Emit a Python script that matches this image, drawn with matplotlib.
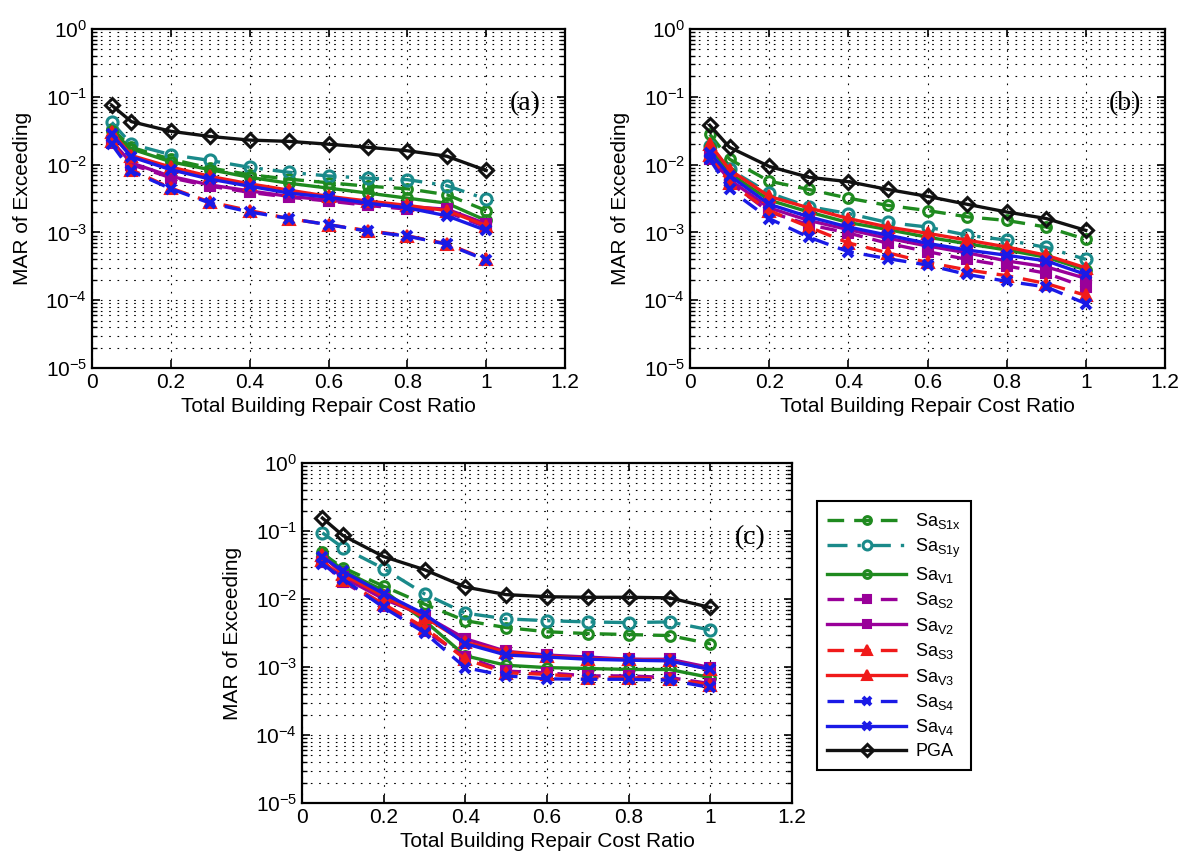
import numpy as np
import matplotlib
matplotlib.use("Agg")
import matplotlib.pyplot as plt

plt.rcParams['font.family'] = ['Liberation Sans', 'DejaVu Sans']
plt.rcParams['mathtext.fontset'] = 'custom'
plt.rcParams['mathtext.rm'] = 'Liberation Sans'
plt.rcParams['mathtext.it'] = 'Liberation Sans:italic'
plt.rcParams['mathtext.default'] = 'regular'

# repair cost ratio levels
ratio = [0.05, 0.1, 0.2, 0.3, 0.4, 0.5, 0.6, 0.7, 0.8, 0.9, 1.0]

# (a)
s1x_a = [0.034, 0.018, 0.012, 0.0089, 0.0071, 0.0061, 0.0054, 0.0048, 0.0044, 0.0036, 0.0021]
s1y_a = [0.042, 0.020, 0.014, 0.0115, 0.0091, 0.0077, 0.0068, 0.0063, 0.0060, 0.0049, 0.0031]
v1_a = [0.031, 0.017, 0.011, 0.0084, 0.0065, 0.0053, 0.0045, 0.0038, 0.0032, 0.0027, 0.0015]
s2_a = [0.021, 0.0100, 0.0064, 0.0048, 0.0039, 0.0033, 0.0029, 0.0025, 0.0022, 0.0020, 0.0012]
v2_a = [0.022, 0.0106, 0.0067, 0.0050, 0.0041, 0.0034, 0.0030, 0.0026, 0.0024, 0.0022, 0.00134]
s3_a = [0.022, 0.0084, 0.0045, 0.0028, 0.0021, 0.0016, 0.0013, 0.00106, 0.00089, 0.00068, 0.00040]
v3_a = [0.030, 0.0136, 0.0092, 0.0067, 0.0052, 0.0042, 0.0034, 0.0029, 0.0025, 0.0021, 0.00126]
s4_a = [0.020, 0.0080, 0.0044, 0.0027, 0.0020, 0.0016, 0.0013, 0.00104, 0.00088, 0.00067, 0.00039]
v4_a = [0.028, 0.013, 0.0084, 0.0061, 0.0048, 0.0038, 0.0033, 0.0027, 0.0023, 0.00176, 0.00107]
pga_a = [0.075, 0.043, 0.031, 0.026, 0.023, 0.022, 0.020, 0.018, 0.016, 0.0133, 0.0082]

# (b)
s1x_b = [0.028, 0.012, 0.0057, 0.0043, 0.0032, 0.0025, 0.0021, 0.0017, 0.0015, 0.0012, 0.00079]
s1y_b = [0.019, 0.0085, 0.0038, 0.0024, 0.0019, 0.0014, 0.0012, 0.00091, 0.00077, 0.0006, 0.0004]
v1_b = [0.018, 0.0075, 0.0030, 0.0020, 0.0014, 0.0011, 0.00085, 0.00068, 0.00055, 0.00043, 0.00028]
s2_b = [0.012, 0.0055, 0.0020, 0.0013, 0.00098, 0.00069, 0.00052, 0.00040, 0.00032, 0.00025, 0.000155]
v2_b = [0.013, 0.0060, 0.0023, 0.0015, 0.0011, 0.00082, 0.00063, 0.00050, 0.00038, 0.00031, 0.00021]
s3_b = [0.014, 0.0053, 0.0021, 0.0012, 0.0007, 0.0005, 0.00036, 0.00028, 0.00023, 0.000176, 0.000118]
v3_b = [0.020, 0.0084, 0.0034, 0.0023, 0.0016, 0.0012, 0.00097, 0.00077, 0.00061, 0.00046, 0.00030]
s4_b = [0.012, 0.0043, 0.0016, 0.00085, 0.00052, 0.00041, 0.00033, 0.00024, 0.00019, 0.000157, 0.000089]
v4_b = [0.015, 0.0069, 0.0026, 0.0017, 0.0012, 0.00091, 0.00069, 0.00055, 0.00046, 0.00038, 0.00024]
pga_b = [0.038, 0.018, 0.0094, 0.0065, 0.0056, 0.0043, 0.0034, 0.0026, 0.0020, 0.0016, 0.00107]

# (c)
s1x_c = [0.046, 0.029, 0.0154, 0.0084, 0.0048, 0.0038, 0.0033, 0.0031, 0.0030, 0.0029, 0.0022]
s1y_c = [0.094, 0.057, 0.028, 0.0119, 0.0062, 0.0051, 0.0048, 0.0046, 0.0045, 0.0046, 0.0035]
v1_c = [0.049, 0.026, 0.0133, 0.0048, 0.00146, 0.00106, 0.00098, 0.00095, 0.00092, 0.00092, 0.0007]
s2_c = [0.035, 0.018, 0.008, 0.0034, 0.0014, 0.00087, 0.00082, 0.00074, 0.00074, 0.0007, 0.00057]
v2_c = [0.035, 0.021, 0.010, 0.0057, 0.0026, 0.0017, 0.0015, 0.0014, 0.0013, 0.0013, 0.00098]
s3_c = [0.037, 0.019, 0.0084, 0.0038, 0.0013, 0.00082, 0.00078, 0.0007, 0.0007, 0.00066, 0.00055]
v3_c = [0.044, 0.023, 0.011, 0.0054, 0.0023, 0.00167, 0.00146, 0.00133, 0.0013, 0.00125, 0.00092]
s4_c = [0.033, 0.0198, 0.0075, 0.0032, 0.00098, 0.00074, 0.00067, 0.00066, 0.00066, 0.00064, 0.0005]
v4_c = [0.042, 0.0254, 0.012, 0.006, 0.0022, 0.0015, 0.0014, 0.0013, 0.00126, 0.00123, 0.00092]
pga_c = [0.155, 0.086, 0.042, 0.027, 0.015, 0.0116, 0.0108, 0.0106, 0.0106, 0.0104, 0.0075]

labels = [r'Sa$_{S1x}$', r'Sa$_{S1y}$', r'Sa$_{V1}$', r'Sa$_{S2}$', r'Sa$_{V2}$',
          r'Sa$_{S3}$', r'Sa$_{V3}$', r'Sa$_{S4}$', r'Sa$_{V4}$', 'PGA']
xticks = [0, 0.2, 0.4, 0.6, 0.8, 1.0, 1.2]
xtick_labels = ['0', '0.2', '0.4', '0.6', '0.8', '1', '1.2']

GREEN = '#1f8a1f'
TEAL = '#1a8a8a'
PURPLE = '#990099'
RED = '#f01a1a'
BLUE = '#1a1ae6'
DASH = (0, (5, 3))
DASHDOT = (0, (6, 3, 1, 3))

# color, linestyle, marker, markersize, filled
styles = [
    (GREEN, DASH, 'o', 7, False),
    (TEAL, DASHDOT, 'o', 8, False),
    (GREEN, '-', 'o', 7, False),
    (PURPLE, DASH, 's', 7, True),
    (PURPLE, '-', 's', 7, True),
    (RED, DASH, '^', 9, True),
    (RED, '-', '^', 9, True),
    (BLUE, DASH, 'x', 7.5, True),
    (BLUE, '-', 'x', 7.5, True),
    ('#111111', '-', 'D', 7.5, False),
]

panels = [
    ([s1x_a, s1y_a, v1_a, s2_a, v2_a, s3_a, v3_a, s4_a, v4_a, pga_a], '(a)',
     [92 / 1190, 1 - 368 / 864, 473 / 1190, 339 / 864]),
    ([s1x_b, s1y_b, v1_b, s2_b, v2_b, s3_b, v3_b, s4_b, v4_b, pga_b], '(b)',
     [690 / 1190, 1 - 368 / 864, 475 / 1190, 339 / 864]),
    ([s1x_c, s1y_c, v1_c, s2_c, v2_c, s3_c, v3_c, s4_c, v4_c, pga_c], '(c)',
     [302 / 1190, 1 - 803 / 864, 490 / 1190, 340 / 864]),
]


def draw_series(ax, x, y, style, label=None):
    color, ls, marker, ms, filled = style
    if marker == 'x':
        mew = 2.8
    elif filled:
        mew = 1.5
    else:
        mew = 2.2
    face = color if filled else 'none'
    return ax.plot(x, y, color=color, linestyle=ls, linewidth=2.4, marker=marker,
                   markersize=ms, markerfacecolor=face, markeredgecolor=color,
                   markeredgewidth=mew, label=label)[0]


fig = plt.figure(figsize=(11.9, 8.64), dpi=100)

handles = []
for series, tag, rect in panels:
    ax = fig.add_axes(rect)
    for k, (y, st) in enumerate(zip(series, styles)):
        h = draw_series(ax, ratio, y, st, labels[k])
        if tag == '(c)':
            handles.append(h)
    ax.set_yscale('log')
    ax.set_xlim(0, 1.2)
    ax.set_ylim(1e-5, 1e0)
    ax.set_xticks(xticks)
    ax.set_xticklabels(xtick_labels)
    ax.set_yticks([1e-5, 1e-4, 1e-3, 1e-2, 1e-1, 1e0])
    ax.tick_params(which='both', direction='in', top=True, right=True, labelsize=15)
    ax.tick_params(which='major', length=6, width=1.2)
    ax.tick_params(which='minor', length=3.5, width=1.0)
    ax.tick_params(axis='x', which='minor', bottom=False, top=False)
    ax.grid(True, which='major', axis='both', color='k', linestyle=(0, (1.5, 6)), linewidth=0.8)
    ax.grid(True, which='minor', axis='y', color='k', linestyle=(0, (1.5, 6)), linewidth=0.8)
    for sp in ax.spines.values():
        sp.set_linewidth(1.6)
    ax.set_xlabel('Total Building Repair Cost Ratio', fontsize=15, labelpad=4)
    ax.set_ylabel('MAR of Exceeding', fontsize=15, labelpad=10)
    ax.text(0.915, 0.78, tag, transform=ax.transAxes, ha='center', va='center',
            fontsize=20, family=['Liberation Serif', 'DejaVu Serif'])

leg = fig.legend(handles=handles, loc='upper left',
                 bbox_to_anchor=(817 / 1190, 1 - 501 / 864),
                 fontsize=13, frameon=True, fancybox=False, framealpha=1,
                 edgecolor='k', handlelength=4.4, handletextpad=0.5,
                 labelspacing=0.3, borderpad=0.55, borderaxespad=0,
                 markerscale=0.8)
leg.get_frame().set_linewidth(1.5)

fig.savefig('out.png', dpi=100)
